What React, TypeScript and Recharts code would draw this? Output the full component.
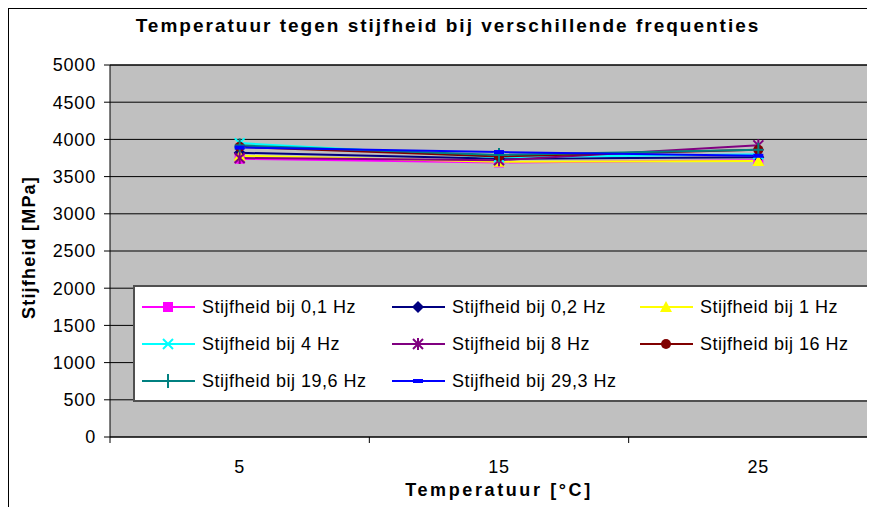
import React from 'react';
import { LineChart, Line, XAxis, YAxis, CartesianGrid, ReferenceLine } from 'recharts';

// temperaturen en stijfheden (MPa)
const temps = [5, 15, 25];
const s01 = [3740, 3690, 3720];
const s02 = [3820, 3740, 3760];
const s1 = [3780, 3700, 3710];
const s4 = [3950, 3760, 3800];
const s8 = [3750, 3720, 3920];
const s16 = [3900, 3770, 3860];
const s196 = [3920, 3790, 3860];
const s293 = [3890, 3830, 3780];

const yTicks = [0, 500, 1000, 1500, 2000, 2500, 3000, 3500, 4000, 4500, 5000];
const xTicks = [0, 5, 10, 15, 20, 25, 30];
const xLabels = [5, 15, 25];

const series = [
  { key: 's01', name: 'Stijfheid bij 0,1 Hz', values: s01, color: '#FF00FF', shape: 'square' },
  { key: 's02', name: 'Stijfheid bij 0,2 Hz', values: s02, color: '#000080', shape: 'diamond' },
  { key: 's1', name: 'Stijfheid bij 1 Hz', values: s1, color: '#FFFF00', shape: 'triangle' },
  { key: 's4', name: 'Stijfheid bij 4 Hz', values: s4, color: '#00FFFF', shape: 'x' },
  { key: 's8', name: 'Stijfheid bij 8 Hz', values: s8, color: '#800080', shape: 'star' },
  { key: 's16', name: 'Stijfheid bij 16 Hz', values: s16, color: '#800000', shape: 'circle' },
  { key: 's196', name: 'Stijfheid bij 19,6 Hz', values: s196, color: '#008080', shape: 'plus' },
  { key: 's293', name: 'Stijfheid bij 29,3 Hz', values: s293, color: '#0000FF', shape: 'dash' },
];

const data = temps.map((t, i) => {
  const row: Record<string, number> = { temp: t };
  series.forEach((s) => { row[s.key] = s.values[i]; });
  return row;
});

const FONT = '"Liberation Sans", Arial, sans-serif';

function Marker({ shape, color, cx, cy }: { shape: string; color: string; cx: number; cy: number }) {
  switch (shape) {
    case 'square':
      return <rect x={cx - 5} y={cy - 5} width={10} height={10} fill={color} />;
    case 'diamond':
      return <polygon points={`${cx},${cy - 6} ${cx + 6},${cy} ${cx},${cy + 6} ${cx - 6},${cy}`} fill={color} />;
    case 'triangle':
      return <polygon points={`${cx},${cy - 6} ${cx + 6},${cy + 5} ${cx - 6},${cy + 5}`} fill={color} />;
    case 'x':
      return (
        <g stroke={color} strokeWidth={2}>
          <line x1={cx - 5} y1={cy - 5} x2={cx + 5} y2={cy + 5} />
          <line x1={cx - 5} y1={cy + 5} x2={cx + 5} y2={cy - 5} />
        </g>
      );
    case 'star':
      return (
        <g stroke={color} strokeWidth={2}>
          <line x1={cx - 5} y1={cy - 5} x2={cx + 5} y2={cy + 5} />
          <line x1={cx - 5} y1={cy + 5} x2={cx + 5} y2={cy - 5} />
          <line x1={cx} y1={cy - 6} x2={cx} y2={cy + 6} />
        </g>
      );
    case 'circle':
      return <circle cx={cx} cy={cy} r={5} fill={color} />;
    case 'plus':
      return (
        <g stroke={color} strokeWidth={2}>
          <line x1={cx} y1={cy - 7} x2={cx} y2={cy + 7} />
          <line x1={cx - 5} y1={cy} x2={cx + 5} y2={cy} />
        </g>
      );
    default:
      return <rect x={cx - 5} y={cy - 2} width={10} height={4} fill={color} />;
  }
}

const makeDot = (shape: string, color: string) => (props: any) => {
  const { cx, cy, index } = props;
  if (cx == null || cy == null) return <g key={index} />;
  return <Marker key={index} shape={shape} color={color} cx={cx} cy={cy} />;
};

const XTick = (props: any) => {
  const { x, y, payload } = props;
  const v = payload.value;
  if (xLabels.includes(v)) {
    return (
      <text x={x} y={y + 36} textAnchor="middle" fontSize={18} fill="#000" fontFamily={FONT} letterSpacing={0.8}>
        {v}
      </text>
    );
  }
  return <line x1={x} y1={y} x2={x} y2={y + 6} stroke="#000" strokeWidth={1} />;
};

const legendLeft = [7, 257, 505];
const legendTop = [10, 47, 84];

export default function App() {
  return (
    <div
      style={{
        position: 'relative',
        width: 867,
        height: 499,
        overflow: 'hidden',
        background: '#fff',
        borderLeft: '1px solid #000',
        borderTop: '1px solid #000',
        boxSizing: 'border-box',
        fontFamily: FONT,
      }}
    >
      <div
        style={{
          position: 'absolute',
          left: 0,
          width: 878,
          top: 6,
          textAlign: 'center',
          fontSize: 19,
          fontWeight: 'bold',
          letterSpacing: 2,
        }}
      >
        Temperatuur tegen stijfheid bij verschillende frequenties
      </div>
      <LineChart width={900} height={490} data={data} margin={{ top: 56, right: 21, left: 0, bottom: 0 }}>
        <CartesianGrid vertical={false} stroke="#000" fill="#C0C0C0" fillOpacity={1} />
        <XAxis
          dataKey="temp"
          type="number"
          domain={[0, 30]}
          ticks={xTicks}
          interval={0}
          height={62}
          tickLine={false}
          tickSize={0}
          tickMargin={0}
          axisLine={{ stroke: '#000' }}
          tick={<XTick />}
        />
        <YAxis
          domain={[0, 5000]}
          ticks={yTicks}
          interval={0}
          width={101}
          tickSize={6}
          tickMargin={8}
          axisLine={{ stroke: '#000' }}
          tickLine={{ stroke: '#000' }}
          tick={{ fontSize: 18, fill: '#000', fontFamily: FONT, letterSpacing: 0.8 }}
        />
        <ReferenceLine y={5000} stroke="#000" />
        {series.map((s) => (
          <Line
            key={s.key}
            dataKey={s.key}
            name={s.name}
            stroke={s.color}
            strokeWidth={2}
            dot={makeDot(s.shape, s.color)}
            activeDot={false}
            isAnimationActive={false}
          />
        ))}
      </LineChart>
      <div
        style={{
          position: 'absolute',
          left: 9,
          top: 228,
          width: 22,
          height: 20,
          display: 'flex',
          alignItems: 'center',
          justifyContent: 'center',
        }}
      >
        <div
          style={{
            transform: 'rotate(-90deg)',
            whiteSpace: 'nowrap',
            fontSize: 18,
            fontWeight: 'bold',
            letterSpacing: 1.2,
          }}
        >
          Stijfheid [MPa]
        </div>
      </div>
      <div
        style={{
          position: 'absolute',
          left: 290,
          width: 400,
          top: 471,
          textAlign: 'center',
          fontSize: 18,
          fontWeight: 'bold',
          letterSpacing: 2.6,
        }}
      >
        Temperatuur [°C]
      </div>
      <div
        style={{
          position: 'absolute',
          left: 124,
          top: 276,
          width: 760,
          height: 117,
          background: '#fff',
          border: '2px solid #505050',
          boxSizing: 'border-box',
        }}
      >
        {series.map((s, i) => (
          <div
            key={s.key}
            style={{
              position: 'absolute',
              left: legendLeft[i % 3],
              top: legendTop[Math.floor(i / 3)],
              height: 20,
              display: 'flex',
              alignItems: 'center',
              whiteSpace: 'nowrap',
            }}
          >
            <svg width={60} height={20}>
              <line x1={0} y1={10} x2={53} y2={10} stroke={s.color} strokeWidth={2} />
              <Marker shape={s.shape} color={s.color} cx={26} cy={10} />
            </svg>
            <span style={{ fontSize: 18, letterSpacing: 0.5 }}>{s.name}</span>
          </div>
        ))}
      </div>
    </div>
  );
}
